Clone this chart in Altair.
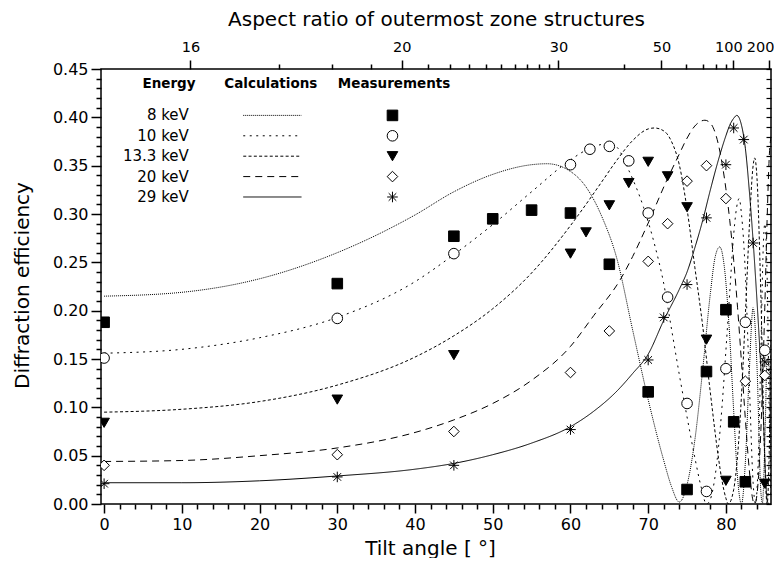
import math
import altair as alt
import pandas as pd

energies = ["8 keV", "10 keV", "13.3 keV", "20 keV", "29 keV"]
headers = ["Energy", "Calculations", "Measurements"]

# ---- calculated curves (tilt angle [deg], diffraction efficiency) ----
calc_8_tilt = [0, 10, 20, 30, 40, 45, 50, 55, 57, 60, 62, 64, 66, 68, 70, 72, 73, 74, 75, 76,
               77, 78, 78.6, 79.2, 79.8, 80.4, 81.0, 81.5, 82.0, 82.5, 83.0, 83.5, 84.0, 84.5,
               84.7, 85.0, 85.3, 85.5, 85.8]
calc_8_eff = [0.215, 0.219, 0.233, 0.260, 0.299, 0.323, 0.341, 0.351, 0.352, 0.344, 0.328, 0.298,
              0.253, 0.180, 0.108, 0.045, 0.018, 0.002, 0.020, 0.066, 0.138, 0.218, 0.255, 0.266,
              0.245, 0.185, 0.096, 0.027, 0.000, 0.043, 0.136, 0.203, 0.142, 0.012, 0.001, 0.061,
              0.148, 0.149, 0.044]

calc_10_tilt = [0, 10, 20, 30, 40, 45, 50, 55, 60, 62, 64, 65, 66, 67.4, 69.4, 70.9, 72, 73, 74, 75,
                76, 76.8, 77.5, 78, 78.5, 79, 79.5, 80, 80.5, 81, 81.5, 81.7, 82, 82.5, 83, 83.5,
                83.8, 84.2, 84.5, 84.8, 85.0, 85.3, 85.6, 85.8]
calc_10_eff = [0.156, 0.160, 0.172, 0.193, 0.230, 0.258, 0.289, 0.323, 0.356, 0.366, 0.372, 0.373,
               0.369, 0.347, 0.307, 0.266, 0.228, 0.181, 0.134, 0.090, 0.048, 0.018, 0.000, 0.005,
               0.023, 0.055, 0.101, 0.159, 0.220, 0.279, 0.312, 0.316, 0.300, 0.239, 0.128, 0.022,
               0.000, 0.055, 0.159, 0.265, 0.290, 0.236, 0.081, 0.005]

calc_13_tilt = [0, 10, 20, 30, 40, 45, 50, 55, 60, 62, 64, 66, 68, 70, 70.8, 72, 73, 74, 75, 76,
                77, 78, 79, 79.5, 80, 80.3, 81, 81.5, 82, 82.5, 83, 83.5, 83.7, 84, 84.5, 85,
                85.3, 85.6, 85.8]
calc_13_eff = [0.095, 0.098, 0.106, 0.123, 0.152, 0.174, 0.202, 0.239, 0.288, 0.310, 0.333, 0.356,
               0.376, 0.388, 0.389, 0.386, 0.375, 0.351, 0.305, 0.245, 0.185, 0.115, 0.050, 0.024,
               0.006, 0.000, 0.015, 0.050, 0.112, 0.195, 0.285, 0.350, 0.358, 0.337, 0.215, 0.044,
               0.000, 0.066, 0.170]

calc_20_tilt = [0, 10, 20, 30, 40, 45, 50, 55, 60, 63, 66.4, 68, 69.8, 72.4, 74, 74.9, 76, 77.3, 78,
                79, 80, 80.5, 81, 81.5, 82, 82.5, 83, 83.5, 83.7, 84, 84.5, 85, 85.3, 85.6, 85.8]
calc_20_eff = [0.044, 0.045, 0.050, 0.058, 0.074, 0.087, 0.104, 0.128, 0.163, 0.195, 0.232, 0.256,
               0.287, 0.335, 0.362, 0.377, 0.391, 0.397, 0.394, 0.373, 0.326, 0.293, 0.252, 0.203,
               0.147, 0.088, 0.036, 0.003, 0.000, 0.010, 0.077, 0.203, 0.294, 0.363, 0.380]

calc_29_tilt = [0, 10, 20, 30, 40, 45, 50, 55, 60, 63, 66, 68, 70, 72, 74, 75, 76, 77, 78, 79,
                80, 80.5, 81, 81.4, 82, 82.5, 83, 83.5, 84, 84.5, 84.8, 85.1, 85.3, 85.5]
calc_29_eff = [0.022, 0.022, 0.024, 0.029, 0.036, 0.042, 0.051, 0.063, 0.080, 0.096, 0.117, 0.135,
               0.155, 0.190, 0.222, 0.240, 0.265, 0.293, 0.325, 0.355, 0.381, 0.392, 0.399, 0.402,
               0.392, 0.368, 0.325, 0.272, 0.210, 0.140, 0.093, 0.030, 0.004, 0.000]

# ---- measurements ----
meas_8_tilt = [0, 30, 45, 50, 55, 60, 65, 70, 75, 77.5, 80, 81, 82.5]
meas_8_eff = [0.188, 0.228, 0.277, 0.295, 0.304, 0.301, 0.248, 0.116, 0.015, 0.137, 0.201, 0.085, 0.023]

meas_10_tilt = [0, 30, 45, 60, 62.5, 65, 67.5, 70, 72.5, 75, 77.5, 80, 82.5, 85]
meas_10_eff = [0.151, 0.192, 0.259, 0.351, 0.367, 0.370, 0.355, 0.301, 0.214, 0.104, 0.013, 0.140,
               0.188, 0.159]

meas_13_tilt = [0, 30, 45, 60, 62, 65, 67.5, 70, 72.5, 75, 77.5, 80, 85]
meas_13_eff = [0.084, 0.108, 0.154, 0.259, 0.281, 0.309, 0.332, 0.354, 0.339, 0.307, 0.170, 0.024,
               0.021]

meas_20_tilt = [0, 30, 45, 60, 65, 70, 72.5, 75, 77.5, 80, 82.5, 85]
meas_20_eff = [0.040, 0.051, 0.075, 0.136, 0.179, 0.251, 0.290, 0.334, 0.350, 0.316, 0.127, 0.133]

meas_29_tilt = [0, 30, 45, 60, 70, 72, 75, 77.5, 80, 81, 82.3, 83.5, 85]
meas_29_eff = [0.021, 0.028, 0.040, 0.077, 0.149, 0.193, 0.227, 0.296, 0.351, 0.389, 0.377, 0.270,
               0.147]

# ---- top axis: aspect ratio of outermost zone structures ----
aspect_major = [16, 20, 30, 50, 100, 200]
aspect_minor = [17, 18, 19, 21, 22, 23, 24, 25, 26, 27, 28, 29, 40, 60, 70, 80, 90]
aspect_at_normal = 15.7  # aspect ratio at 0 deg tilt (aspect = a0 / cos(tilt))

# ---------------------------------------------------------------------------
calc_t = [calc_8_tilt, calc_10_tilt, calc_13_tilt, calc_20_tilt, calc_29_tilt]
calc_v = [calc_8_eff, calc_10_eff, calc_13_eff, calc_20_eff, calc_29_eff]
meas_t = [meas_8_tilt, meas_10_tilt, meas_13_tilt, meas_20_tilt, meas_29_tilt]
meas_v = [meas_8_eff, meas_10_eff, meas_13_eff, meas_20_eff, meas_29_eff]

calc_df = pd.DataFrame([{"energy": e, "tilt": t, "eff": v}
                        for e, ts, vs in zip(energies, calc_t, calc_v) for t, v in zip(ts, vs)])
meas_df = pd.DataFrame([{"energy": e, "tilt": t, "eff": v}
                        for e, ts, vs in zip(energies, meas_t, meas_v) for t, v in zip(ts, vs)])

FONT = "DejaVu Sans"
ASTERISK = "M0,-1L0,1M-1,0L1,0M-0.72,-0.72L0.72,0.72M-0.72,0.72L0.72,-0.72"

x_scale = alt.Scale(domain=[-0.4, 85.8], nice=False, zero=False)
y_scale = alt.Scale(domain=[0, 0.45], nice=False, zero=False)
dash_scale = alt.Scale(domain=energies, range=[[1, 1], [2, 4.5], [3, 2.3], [7, 5], [1, 0]])
shape_scale = alt.Scale(domain=energies,
                        range=["square", "circle", "triangle-down", "diamond", ASTERISK])
fill_scale = alt.Scale(domain=energies, range=["black", "white", "black", "white", "black"])

# axes
x_tick_vals = list(range(0, 86, 2))
y_tick_vals = [round(i * 0.01, 2) for i in range(46)]
top_all = sorted(aspect_major + aspect_minor)
top_vals = [math.degrees(math.acos(aspect_at_normal / a)) for a in top_all]
aspect_expr = f"round({aspect_at_normal}/cos(datum.value*PI/180))"
major_test = "indexof([" + ",".join(str(a) for a in aspect_major) + "], " + aspect_expr + ") >= 0"
y_major_test = "abs(datum.value*20 - round(datum.value*20)) < 0.000001"

common = dict(domain=False, grid=False, tickColor="black", tickWidth=1.5, labelColor="black",
              titleColor="black", labelFont=FONT, titleFont=FONT, labelFontSize=16,
              titleFontSize=20, titleFontWeight="normal", labelFlush=False, labelOverlap=False)

bottom_axis = alt.Axis(orient="bottom", values=x_tick_vals, format="d",
                       labelExpr="datum.value % 10 === 0 ? datum.label : ''",
                       tickSize={"condition": {"test": "datum.value % 10 === 0", "value": 9}, "value": 5},
                       labelPadding=3, title="Tilt angle [ °]", titleX=329, titleY=44,
                       titleBaseline="middle", **common)
left_axis = alt.Axis(orient="left", values=y_tick_vals, format=".2f",
                     labelExpr=f"{y_major_test} ? datum.label : ''",
                     tickSize={"condition": {"test": y_major_test, "value": 10}, "value": 5},
                     labelPadding=3, title="Diffraction efficiency", titleX=-79, titleY=216,
                     titleAngle=270, titleBaseline="middle", **common)
top_common = dict(common)
top_common["labelFontSize"] = 14.5
top_axis = alt.Axis(orient="top", values=top_vals,
                    labelExpr=f"{major_test} ? ('' + {aspect_expr}) : ''",
                    tickSize={"condition": {"test": major_test, "value": 9}, "value": 5},
                    labelOffset={"expr": f"{aspect_expr} == 200 ? -8.5 : ({aspect_expr} == 100 ? -5 : 0)"},
                    labelPadding=6, title="Aspect ratio of outermost zone structures",
                    titleY=-50, titleBaseline="middle", **top_common)
right_axis = alt.Axis(orient="right", values=y_tick_vals, labels=False, tickSize=5, offset=-5,
                      title=None, domain=False, grid=False, tickColor="black", tickWidth=1.2)

curves = alt.Chart(calc_df).mark_line(interpolate="monotone", color="black", strokeWidth=1,
                                      clip=True).encode(
    x=alt.X("tilt:Q", scale=x_scale, axis=bottom_axis),
    y=alt.Y("eff:Q", scale=y_scale, axis=left_axis),
    strokeDash=alt.StrokeDash("energy:N", scale=dash_scale, legend=None),
    detail="energy:N",
)

points = alt.Chart(meas_df).mark_point(filled=True, stroke="black", strokeWidth=1, opacity=1,
                                       size=112, clip=True).encode(
    x=alt.X("tilt:Q", scale=x_scale, axis=top_axis),
    y=alt.Y("eff:Q", scale=y_scale, axis=right_axis),
    shape=alt.Shape("energy:N", scale=shape_scale, legend=None),
    fill=alt.Fill("energy:N", scale=fill_scale, legend=None),
)

# ---- in-plot legend (layout positions in axis units) ----
legend_df = pd.DataFrame({"energy": energies,
                          "ly": [0.402 - 0.0211 * i for i in range(len(energies))]})
head_df = pd.DataFrame({"head": headers, "hx": [8.35, 21.45, 37.3], "hy": [0.4345] * 3})

leg_text = alt.Chart(legend_df).mark_text(align="right", baseline="middle", font=FONT,
                                          fontSize=15, color="black").encode(
    x=alt.X(datum=10.9, scale=x_scale, axis=None),
    y=alt.Y("ly:Q", scale=y_scale, axis=None),
    text="energy:N",
)
leg_lines = alt.Chart(legend_df).mark_rule(color="black", strokeWidth=1).encode(
    x=alt.X(datum=17.9, scale=x_scale, axis=None),
    x2=alt.X2(datum=25.4),
    y=alt.Y("ly:Q", scale=y_scale, axis=None),
    strokeDash=alt.StrokeDash("energy:N", scale=dash_scale, legend=None),
)
leg_marks = alt.Chart(legend_df).mark_point(filled=True, stroke="black", strokeWidth=1,
                                            opacity=1, size=112).encode(
    x=alt.X(datum=37.1, scale=x_scale, axis=None),
    y=alt.Y("ly:Q", scale=y_scale, axis=None),
    shape=alt.Shape("energy:N", scale=shape_scale, legend=None),
    fill=alt.Fill("energy:N", scale=fill_scale, legend=None),
)
leg_head = alt.Chart(head_df).mark_text(align="center", baseline="middle", font=FONT,
                                        fontSize=13.5, fontWeight="bold", color="black").encode(
    x=alt.X("hx:Q", scale=x_scale, axis=None),
    y=alt.Y("hy:Q", scale=y_scale, axis=None),
    text="head:N",
)

chart = alt.layer(curves, points, leg_lines, leg_marks, leg_text, leg_head).resolve_axis(
    x="independent", y="independent"
).properties(
    width=670, height=435,
    padding={"left": 93, "top": 61, "right": 3, "bottom": 54},
    autosize=alt.AutoSizeParams(type="none"),
    background="white",
).configure_view(stroke="black", strokeWidth=1.5)

chart.save("out.html", embed_options={"renderer": "svg", "actions": False})
